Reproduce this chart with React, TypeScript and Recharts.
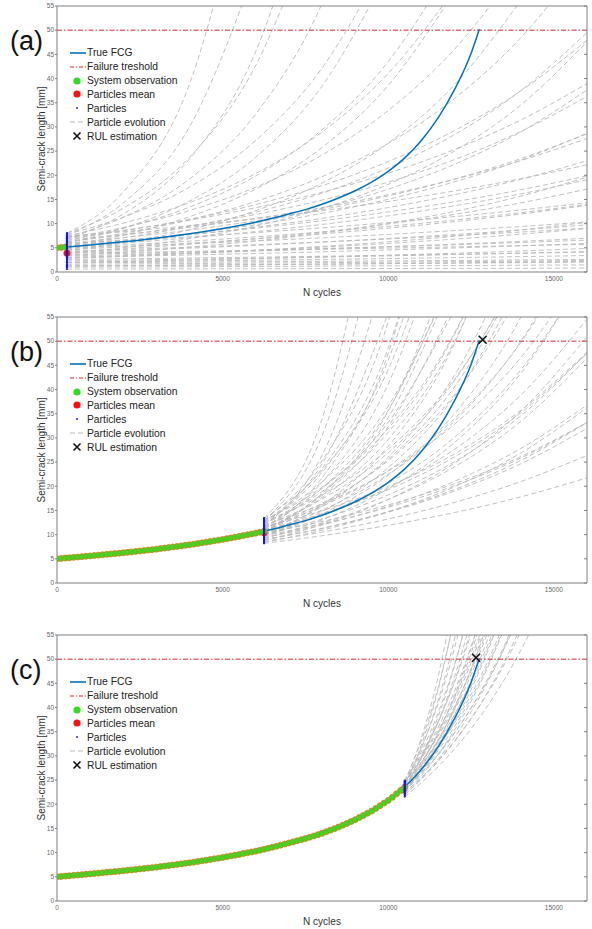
import React from "react";
import { ComposedChart, Line, Scatter, XAxis, YAxis, ReferenceLine } from "recharts";

// axis ticks
const xTicks = [0, 5000, 10000, 15000];
const yTicks = [0, 5, 10, 15, 20, 25, 30, 35, 40, 45, 50, 55];

const FAILURE = 50;
const OBS_STEP = 125; // cycles between two observations

// true fatigue crack growth
const trueN = [0, 1000, 2000, 3000, 4000, 5000, 6000, 6500, 7000, 7500, 8000, 8500, 9000, 9500, 10000, 10500, 11000, 11500, 12000, 12500, 12750];
const trueA = [5.0, 5.6, 6.25, 7.0, 7.9, 9.0, 10.3, 11.1, 12.0, 12.9, 14.0, 15.3, 16.8, 18.6, 20.8, 23.6, 27.2, 31.8, 37.7, 45.2, 50.2];

// system observations, one every OBS_STEP cycles
const obsA = [
  5.0, 5.07, 5.15, 5.22, 5.3, 5.37, 5.45, 5.52,
  5.6, 5.68, 5.76, 5.84, 5.92, 6.0, 6.08, 6.16,
  6.25, 6.34, 6.43, 6.53, 6.62, 6.71, 6.81, 6.9,
  7.0, 7.11, 7.22, 7.33, 7.45, 7.56, 7.67, 7.79,
  7.9, 8.03, 8.17, 8.3, 8.44, 8.58, 8.72, 8.86,
  9.0, 9.16, 9.32, 9.48, 9.64, 9.81, 9.97, 10.14,
  10.3, 10.5, 10.7, 10.9, 11.1, 11.32, 11.55, 11.77,
  12.0, 12.22, 12.45, 12.68, 12.9, 13.17, 13.44, 13.72,
  14.0, 14.32, 14.64, 14.96, 15.3, 15.67, 16.04, 16.42,
  16.8, 17.25, 17.7, 18.15, 18.6, 19.15, 19.7, 20.25,
  20.8, 21.45, 22.15, 22.85, 23.55,
];

// (a) particles propagated from N = 300
const gridA = [300, 2000, 4000, 6000, 8000, 10000, 12000, 14000, 16000];
const particlesA = [
  [0.6, 0.62, 0.65, 0.67, 0.7, 0.73, 0.75, 0.78, 0.82],
  [1.0, 1.04, 1.09, 1.15, 1.21, 1.27, 1.33, 1.4, 1.47],
  [1.2, 1.28, 1.38, 1.49, 1.61, 1.74, 1.88, 2.03, 2.2],
  [1.3, 1.37, 1.45, 1.54, 1.63, 1.73, 1.83, 1.94, 2.05],
  [1.6, 1.67, 1.75, 1.84, 1.93, 2.03, 2.13, 2.24, 2.35],
  [1.9, 1.96, 2.04, 2.12, 2.21, 2.3, 2.39, 2.49, 2.58],
  [2.0, 2.12, 2.27, 2.43, 2.6, 2.78, 2.97, 3.18, 3.4],
  [2.0, 2.2, 2.47, 2.76, 3.09, 3.46, 3.88, 4.35, 4.87],
  [2.3, 2.46, 2.65, 2.86, 3.09, 3.34, 3.61, 3.9, 4.21],
  [2.6, 2.73, 2.9, 3.07, 3.25, 3.45, 3.66, 3.88, 4.11],
  [2.8, 3.22, 3.8, 4.49, 5.29, 6.25, 7.37, 8.7, 10.26],
  [3.0, 3.23, 3.52, 3.83, 4.18, 4.56, 4.97, 5.42, 5.9],
  [3.0, 3.38, 3.89, 4.47, 5.14, 5.91, 6.8, 7.82, 8.99],
  [3.3, 3.58, 3.94, 4.33, 4.76, 5.24, 5.76, 6.34, 6.97],
  [3.4, 4.11, 5.14, 6.42, 8.03, 10.03, 12.54, 15.68, 19.6],
  [3.6, 3.84, 4.15, 4.48, 4.84, 5.23, 5.65, 6.1, 6.59],
  [3.8, 5.0, 6.9, 9.52, 13.13, 18.13, 25.01, 34.52, 47.61],
  [3.9, 4.06, 4.27, 4.48, 4.71, 4.94, 5.19, 5.45, 5.72],
  [4.0, 4.4, 4.93, 5.52, 6.19, 6.93, 7.76, 8.69, 9.74],
  [4.1, 4.79, 5.74, 6.89, 8.27, 9.93, 11.91, 14.29, 17.15],
  [4.3, 4.66, 5.13, 5.64, 6.2, 6.83, 7.51, 8.26, 9.09],
  [4.4, 6.03, 8.75, 12.69, 18.39, 26.67, 38.7, 56.1],
  [4.6, 5.18, 5.96, 6.85, 7.88, 9.06, 10.42, 11.98, 13.78],
  [4.8, 6.0, 7.8, 10.14, 13.18, 17.14, 22.28, 28.96, 37.65],
  [4.9, 5.31, 5.85, 6.43, 7.07, 7.78, 8.56, 9.41, 10.35],
  [5.0, 5.59, 6.37, 7.27, 8.28, 9.44, 10.76, 12.27, 13.99],
  [5.2, 5.99, 7.06, 8.34, 9.83, 11.61, 13.69, 16.16, 19.06],
  [5.3, 6.36, 7.89, 9.78, 12.13, 15.04, 18.65, 23.13, 28.68],
  [5.4, 7.62, 11.43, 17.15, 25.73, 38.59, 57.9],
  [5.5, 6.42, 7.71, 9.25, 11.09, 13.32, 15.98, 19.17, 23.01],
  [5.6, 7.09, 9.36, 12.35, 16.31, 21.52, 28.41, 37.5, 49.5],
  [5.8, 6.63, 7.75, 9.07, 10.61, 12.42, 14.53, 17.0, 19.89],
  [5.9, 6.5, 7.27, 8.15, 9.13, 10.22, 11.45, 12.82, 14.36],
  [6.0, 7.1, 8.67, 10.58, 12.91, 15.74, 19.21, 23.44, 28.59],
  [6.0, 9.04, 14.65, 23.73, 38.43, 62.3],
  [6.2, 8.0, 10.8, 14.58, 19.69, 26.57, 35.87, 48.43, 65.35],
  [6.3, 7.62, 9.52, 11.9, 14.87, 18.59, 23.24, 29.05, 36.31],
  [6.5, 9.07, 13.42, 19.86, 29.4, 43.51, 64.4],
  [6.6, 7.71, 9.25, 11.09, 13.31, 15.98, 19.17, 23.01, 27.61],
  [6.8, 12.0, 23.39, 45.61, 88.9],
  [6.9, 8.51, 10.9, 13.94, 17.85, 22.85, 29.24, 37.43, 47.91],
  [7.0, 9.21, 12.71, 17.53, 24.19, 33.39, 46.07, 63.58],
  [7.2, 8.64, 10.72, 13.29, 16.48, 20.43, 25.34, 31.42, 38.96],
  [7.2, 11.3, 19.22, 32.67, 55.5, 94.4],
  [7.4, 8.33, 9.58, 11.02, 12.68, 14.58, 16.76, 19.28, 22.17],
  [7.5, 10.1, 14.35, 20.37, 28.93, 41.08, 58.36],
  [7.6, 14.28, 29.99, 62.9],
  [7.8, 11.33, 17.55, 27.21, 42.17, 65.36],
  [8.0, 13.18, 23.73, 42.71, 76.9],
  [8.0, 16.54, 38.86, 91.4],
];

// (b) particles propagated from N = 6250
const gridB = [6250, 8000, 10000, 12000, 14000, 16000];
const particlesB = [
  [8.2, 9.77, 11.93, 14.57, 17.8, 21.74],
  [8.6, 10.52, 13.24, 16.66, 20.97, 26.38],
  [9.0, 11.3, 14.65, 19.01, 24.65, 31.97],
  [8.4, 10.92, 14.74, 19.9, 26.86, 36.26],
  [8.9, 11.27, 14.77, 19.34, 25.33, 33.19],
  [9.4, 12.01, 15.89, 21.03, 27.81, 36.81],
  [9.8, 12.2, 15.66, 20.11, 25.82, 33.15],
  [10.3, 12.71, 16.15, 20.54, 26.11, 33.19],
  [10.0, 13.23, 18.22, 25.09, 34.56, 47.59],
  [8.8, 12.06, 17.28, 24.77, 35.51, 50.89],
  [9.3, 12.42, 17.27, 24.02, 33.41, 46.48],
  [10.4, 14.0, 19.68, 27.64, 38.83, 54.56],
  [11.0, 14.3, 19.31, 26.06, 35.18, 47.49],
  [11.6, 14.95, 19.99, 26.7, 35.69, 47.7],
  [9.2, 13.05, 19.48, 29.05, 43.34, 64.67],
  [10.1, 14.08, 20.59, 30.12, 44.04, 64.4],
  [10.6, 15.04, 22.44, 33.47, 49.94, 74.51],
  [11.4, 15.89, 23.24, 34.0, 49.7, 72.69],
  [12.0, 16.3, 23.14, 32.82, 46.57, 66.11],
  [9.6, 14.24, 22.32, 35.01, 54.9, 86.1],
  [11.3, 16.46, 25.3, 38.89, 59.79],
  [9.7, 14.76, 23.86, 38.56, 62.31],
  [10.8, 16.16, 25.59, 40.53, 64.21],
  [11.8, 17.35, 26.93, 41.81, 64.91],
  [12.6, 18.19, 27.69, 42.15, 64.15],
  [10.2, 15.8, 26.05, 42.95, 70.81],
  [11.2, 17.65, 29.69, 49.95, 84.0],
  [12.2, 18.9, 31.16, 51.37, 84.69],
  [12.3, 19.56, 33.23, 56.46],
  [13.0, 19.79, 31.98, 51.68, 83.51],
  [9.9, 16.16, 28.29, 49.53, 86.7],
  [10.9, 18.1, 32.34, 57.76],
  [11.6, 19.6, 35.73, 65.11],
  [10.7, 18.4, 34.22, 63.61],
  [12.8, 20.89, 36.58, 64.04],
  [10.5, 18.54, 35.52, 68.04],
  [11.5, 20.85, 41.16, 81.2],
  [12.4, 22.88, 46.08, 92.8],
  [12.6, 23.66, 48.6, 99.8],
  [13.3, 23.29, 44.16, 83.8],
  [11.0, 21.77, 47.49, 103.6],
  [12.0, 24.6, 55.84],
  [13.0, 25.27, 54.05, 115.6],
  [11.8, 26.4, 66.23],
  [12.9, 30.41, 81.0],
  [13.4, 33.88, 97.8],
];

// (c) particles propagated from N = 10500
const gridC = [10500, 11000, 11500, 12000, 12500, 13000, 13500, 14000, 14500];
const particlesC = [
  [21.6, 24.47, 27.74, 31.43, 35.61, 40.35, 45.73, 51.82, 58.71],
  [22.0, 25.19, 28.82, 32.98, 37.75, 43.21, 49.46, 56.61],
  [22.4, 25.51, 29.05, 33.08, 37.68, 42.92, 48.85, 55.64],
  [21.9, 25.32, 29.26, 33.84, 39.11, 45.22, 52.28, 60.42],
  [22.8, 26.22, 30.16, 34.7, 39.92, 45.92, 52.8, 60.74],
  [23.2, 26.56, 30.39, 34.78, 39.81, 45.56, 52.15, 59.69],
  [22.2, 25.93, 30.28, 35.34, 41.27, 48.2, 56.28],
  [23.0, 26.73, 31.05, 36.06, 41.91, 48.69, 56.58],
  [23.6, 27.38, 31.74, 36.79, 42.67, 49.49, 57.4],
  [22.6, 26.65, 31.44, 37.06, 43.73, 51.57, 60.82],
  [23.4, 27.47, 32.22, 37.81, 44.37, 52.09, 61.12],
  [24.0, 28.1, 32.93, 38.57, 45.17, 52.9, 61.97],
  [22.9, 27.21, 32.31, 38.38, 45.59, 54.11, 64.3],
  [23.7, 28.08, 33.3, 39.46, 46.78, 55.46],
  [24.3, 28.75, 34.02, 40.22, 47.58, 56.28],
  [23.1, 27.72, 33.24, 39.89, 47.84, 57.38],
  [24.0, 28.73, 34.39, 41.18, 49.3, 59.04],
  [24.6, 29.4, 35.13, 41.97, 50.13, 59.9],
  [22.5, 27.2, 32.9, 39.78, 48.11, 58.19],
  [23.5, 28.55, 34.71, 42.18, 51.25, 62.3],
  [24.4, 29.57, 35.82, 43.41, 52.61, 63.73],
  [23.0, 28.24, 34.66, 42.55, 52.21, 64.1],
  [24.2, 29.86, 36.83, 45.45, 56.05],
  [24.8, 30.28, 37.0, 45.19, 55.2],
  [23.6, 29.55, 37.0, 46.35, 58.06],
  [24.5, 30.85, 38.81, 48.85, 61.54],
  [23.3, 29.78, 38.03, 48.58, 62.07],
  [24.7, 31.71, 40.73, 52.29, 67.13],
  [24.1, 31.57, 41.36, 54.18, 70.97],
  [24.9, 33.12, 44.02, 58.56],
  [23.9, 32.26, 43.55, 58.79],
  [24.6, 33.71, 46.2, 63.3],
];

// particles mean at the last observation, and RUL estimate [N, a]
const meanA = [300, 3.9];
const meanB = [6250, 10.4];
const meanC = [10450, 23.0];
const rulB = [12850, 50.3];
const rulC = [12650, 50.3];

const BLUE = "#0072bd";
const RED = "#e0242b";
const GREEN = "#33dd22";
const GRAY = "#b9b9b9";
const AXIS = "#7f7f7f";

type Pt = { n: number; a: number };
const pts = (xs: number[], ys: number[]): Pt[] => ys.map((a, i) => ({ n: xs[i], a }));

const noTick = () => <g />;

const obsShape = (p: any) => (
  <circle cx={p.cx} cy={p.cy} r={3.0} fill={GREEN} stroke="#e07820" strokeWidth={0.8} />
);
const meanShape = (p: any) => <circle cx={p.cx} cy={p.cy} r={3.4} fill="#ff1010" />;
const dotShape = (p: any) => <circle cx={p.cx} cy={p.cy} r={1.1} fill="#1515e8" />;
const crossShape = (p: any) => (
  <path
    d={`M${p.cx - 4},${p.cy - 4}L${p.cx + 4},${p.cy + 4}M${p.cx - 4},${p.cy + 4}L${p.cx + 4},${p.cy - 4}`}
    stroke="#111"
    strokeWidth={1.6}
  />
);

const legendItems = [
  { name: "True FCG", kind: "line" },
  { name: "Failure treshold", kind: "dashdot" },
  { name: "System observation", kind: "green" },
  { name: "Particles mean", kind: "red" },
  { name: "Particles", kind: "dot" },
  { name: "Particle evolution", kind: "dash" },
  { name: "RUL estimation", kind: "x" },
];

function Marker({ kind }: { kind: string }) {
  let m: React.ReactNode = null;
  if (kind === "line") m = <line x1={2} x2={18} y1={7} y2={7} stroke={BLUE} strokeWidth={1.6} />;
  if (kind === "dashdot")
    m = <line x1={2} x2={18} y1={7} y2={7} stroke={RED} strokeWidth={1} strokeDasharray="4 2 1 2" />;
  if (kind === "green") m = <circle cx={9} cy={7} r={3.6} fill={GREEN} />;
  if (kind === "red") m = <circle cx={9} cy={7} r={3.6} fill="#ff1010" />;
  if (kind === "dot") m = <circle cx={9} cy={7} r={0.9} fill="#1515e8" />;
  if (kind === "dash")
    m = <line x1={2} x2={18} y1={7} y2={7} stroke={GRAY} strokeWidth={1} strokeDasharray="5 3" />;
  if (kind === "x") m = <path d="M5.5,3.5L12.5,10.5M5.5,10.5L12.5,3.5" stroke="#111" strokeWidth={1.6} />;
  return (
    <svg width={18} height={14} style={{ display: "block" }}>
      {m}
    </svg>
  );
}

type PanelProps = {
  tag: string;
  top: number;
  grid: number[];
  particles: number[][];
  obsCount: number;
  mean: number[];
  rul?: number[];
};

function Panel({ tag, top, grid, particles, obsCount, mean, rul }: PanelProps) {
  const obs = obsA.slice(0, obsCount).map((a, i) => ({ n: i * OBS_STEP, a }));
  const starts = particles.map((p) => ({ n: grid[0], a: p[0] }));
  return (
    <div style={{ position: "absolute", left: 0, top, width: 592, height: 310 }}>
      <ComposedChart width={592} height={310} margin={{ top: 6, right: 5, bottom: 8, left: 0 }}>
        <XAxis
          dataKey="n"
          type="number"
          domain={[0, 16000]}
          ticks={xTicks}
          allowDataOverflow
          tickLine={false}
          tickSize={0}
          tickMargin={4}
          tick={{ fontSize: 6.5, fill: "#666" }}
          stroke={AXIS}
          height={30}
          label={{ value: "N cycles", position: "insideBottom", offset: 6, fontSize: 10, fill: "#333" }}
        />
        <XAxis
          xAxisId="top"
          orientation="top"
          type="number"
          domain={[0, 16000]}
          ticks={xTicks}
          allowDataOverflow
          mirror
          tick={noTick}
          tickSize={3}
          stroke={AXIS}
        />
        <XAxis
          xAxisId="inner"
          orientation="bottom"
          type="number"
          domain={[0, 16000]}
          ticks={xTicks}
          allowDataOverflow
          mirror
          axisLine={false}
          tick={noTick}
          tickSize={3}
          stroke={AXIS}
        />
        <YAxis
          dataKey="a"
          type="number"
          domain={[0, 55]}
          ticks={yTicks}
          allowDataOverflow
          width={57}
          tickSize={2}
          tickMargin={1}
          tick={{ fontSize: 6.5, fill: "#666" }}
          stroke={AXIS}
          label={{ value: "Semi-crack length [mm]", angle: -90, position: "center", dx: 13, fontSize: 10, fill: "#333" }}
        />
        <YAxis
          yAxisId="right"
          orientation="right"
          type="number"
          domain={[0, 55]}
          ticks={yTicks}
          allowDataOverflow
          mirror
          tick={noTick}
          tickSize={3}
          stroke={AXIS}
        />
        {particles.map((p, i) => (
          <Line
            key={"p" + i}
            data={pts(grid, p)}
            dataKey="a"
            type="monotone"
            dot={false}
            activeDot={false}
            stroke={GRAY}
            strokeWidth={0.9}
            strokeDasharray="5 3"
            isAnimationActive={false}
          />
        ))}
        <ReferenceLine y={FAILURE} stroke={RED} strokeWidth={1} strokeDasharray="5 2 1.5 2" />
        <Line
          data={pts(trueN, trueA)}
          dataKey="a"
          type="monotone"
          dot={false}
          activeDot={false}
          stroke={BLUE}
          strokeWidth={1.5}
          isAnimationActive={false}
        />
        <Scatter data={[{ n: mean[0], a: mean[1] }]} dataKey="a" shape={meanShape} isAnimationActive={false} />
        <Scatter data={obs} dataKey="a" shape={obsShape} isAnimationActive={false} />
        <Scatter data={starts} dataKey="a" shape={dotShape} isAnimationActive={false} />
        {rul && <Scatter data={[{ n: rul[0], a: rul[1] }]} dataKey="a" shape={crossShape} isAnimationActive={false} />}
      </ComposedChart>
      <div
        style={{
          position: "absolute",
          left: 10,
          top: 26,
          fontSize: 27,
          lineHeight: "30px",
          color: "#111",
        }}
      >
        {tag}
      </div>
      <div style={{ position: "absolute", left: 68, top: 45.8 }}>
        {legendItems.map((it) => (
          <div key={it.name} style={{ display: "flex", alignItems: "center", height: 13.9 }}>
            <Marker kind={it.kind} />
            <span style={{ marginLeft: 1, fontSize: 10.3, color: "#222", whiteSpace: "nowrap" }}>{it.name}</span>
          </div>
        ))}
      </div>
    </div>
  );
}

export default function App() {
  return (
    <div
      style={{
        position: "absolute",
        left: 0,
        top: 0,
        width: 592,
        height: 929,
        background: "#fff",
        fontFamily: "Arial, 'Liberation Sans', sans-serif",
      }}
    >
      <Panel tag="(a)" top={0} grid={gridA} particles={particlesA} obsCount={3} mean={meanA} />
      <Panel tag="(b)" top={311} grid={gridB} particles={particlesB} obsCount={51} mean={meanB} rul={rulB} />
      <Panel tag="(c)" top={629} grid={gridC} particles={particlesC} obsCount={85} mean={meanC} rul={rulC} />
    </div>
  );
}
